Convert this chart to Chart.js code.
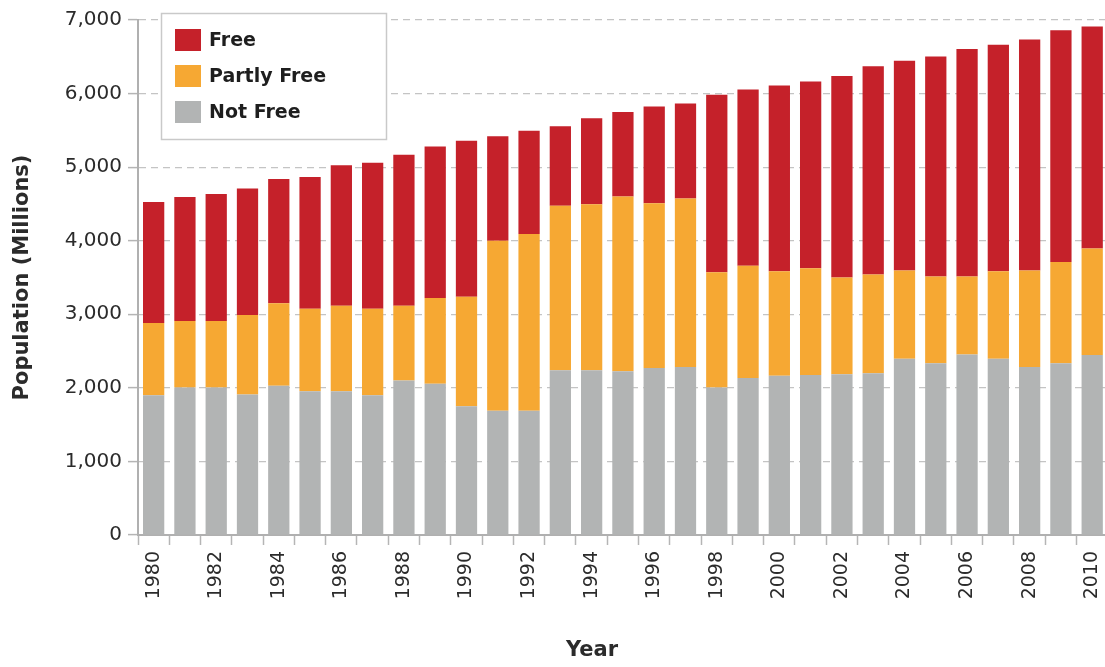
<!DOCTYPE html>
<html>
<head>
<meta charset="utf-8">
<script src="https://cdn.jsdelivr.net/npm/chart.js@4/dist/chart.umd.min.js"></script>
<style>
  html, body { margin: 0; padding: 0; background: #fff; overflow: hidden; }
  #wrap { width: 1105px; height: 667px; position: relative; overflow: hidden; }
</style>
</head>
<body>
<div id="wrap"><canvas id="c" width="1121" height="667"></canvas></div>
<script>
// ---- Data (millions of people) ----
const years = ['1980','1981','1982','1983','1984','1985','1986','1987','1988','1989',
               '1990','1991','1992','1993','1994','1995','1996','1997','1998','1999',
               '2000','2001','2002','2003','2004','2005','2006','2007','2008','2009','2010'];
const notFree =    [1900,2005,2005,1910,2030,1955,1955,1900,2100,2055,
                    1750,1690,1690,2240,2240,2225,2270,2285,2005,2135,
                    2165,2175,2185,2200,2395,2335,2455,2395,2285,2335,2445];
const partlyFree = [ 980, 905, 905,1080,1120,1120,1160,1175,1015,1165,
                    1490,2310,2400,2235,2255,2375,2240,2290,1565,1525,
                    1420,1450,1315,1340,1200,1180,1060,1190,1310,1375,1450];
const free =       [1645,1685,1725,1720,1690,1790,1910,1985,2055,2060,
                    2120,1420,1405,1080,1170,1150,1315,1290,2415,2395,
                    2525,2540,2740,2830,2850,2990,3090,3080,3140,3150,3015];
const yTicks = [0,1000,2000,3000,4000,5000,6000,7000];
const xTitle = 'Year';

const FONT = "'DejaVu Sans', 'Liberation Sans', Arial, sans-serif";
const TXT = '#2b2b2b';

const legendBox = {
  id: 'legendBox',
  afterDraw(chart) {
    const ctx = chart.ctx;
    const ca = chart.chartArea;
    const x = ca.left + 23, y = 13, w = 225, h = 126;
    ctx.save();
    ctx.fillStyle = '#ffffff';
    ctx.fillRect(x, y, w, h);
    ctx.strokeStyle = '#c9c9c9';
    ctx.lineWidth = 1.5;
    ctx.strokeRect(x + 0.5, y + 0.5, w, h);
    const order = chart.data.datasets.slice().reverse();
    ctx.font = "bold 19px " + FONT;
    ctx.textBaseline = 'middle';
    ctx.textAlign = 'left';
    order.forEach((ds, i) => {
      const cy = y + 27 + i * 36;
      ctx.fillStyle = ds.backgroundColor;
      ctx.fillRect(x + 14, cy - 11, 26, 22);
      ctx.fillStyle = '#1e1e1e';
      ctx.fillText(ds.label, x + 48, cy + 1);
    });
    // x-axis title
    ctx.font = "bold 21px " + FONT;
    ctx.fillStyle = TXT;
    ctx.textAlign = 'center';
    ctx.fillText(xTitle, 592, 651);
    ctx.restore();
  }
};

new Chart(document.getElementById('c'), {
  type: 'bar',
  data: {
    labels: years,
    datasets: [
      { label: 'Not Free', data: notFree, backgroundColor: '#b2b4b4' },
      { label: 'Partly Free', data: partlyFree, backgroundColor: '#f6a833' },
      { label: 'Free', data: free, backgroundColor: '#c5212a' }
    ]
  },
  options: {
    responsive: false,
    animation: false,
    events: [],
    layout: { padding: { top: 20, right: 0, bottom: 0, left: 0 } },
    datasets: { bar: { categoryPercentage: 0.68, barPercentage: 1.0 } },
    plugins: { legend: { display: false }, tooltip: { enabled: false } },
    scales: {
      x: {
        stacked: true,
        offset: true,
        grid: { display: true, drawOnChartArea: false, drawTicks: true, tickLength: 10,
                tickColor: '#b5b5b5', tickWidth: 1.5, offset: true },
        border: { display: true, color: '#b0b0b0', width: 2 },
        ticks: {
          autoSkip: false, minRotation: 90, maxRotation: 90, padding: 6,
          color: TXT, font: { family: FONT, size: 19 },
          callback: function(v, i) { return i % 2 === 0 ? this.getLabelForValue(v) : ''; }
        },
        title: { display: false },
        afterFit: (s) => { s.height = 132; }
      },
      y: {
        stacked: true,
        min: 0, max: 7000,
        afterBuildTicks: (s) => { s.ticks = yTicks.map(v => ({ value: v })); },
        grid: { color: (c) => c.tick && c.tick.value === 0 ? 'rgba(0,0,0,0)' : '#c4c4c4',
                lineWidth: 1.2, drawTicks: true, tickLength: 10,
                tickColor: '#b5b5b5', tickWidth: 1.5, tickBorderDash: [] },
        border: { display: true, color: '#b0b0b0', width: 2, dash: [7, 5] },
        ticks: {
          padding: 6, color: TXT, font: { family: FONT, size: 20 },
          callback: (v) => Number(v).toLocaleString('en-US')
        },
        title: { display: true, text: 'Population (Millions)', color: TXT,
                 font: { family: FONT, size: 21, weight: 'bold' }, padding: { top: 10, bottom: 0 } },
        afterFit: (s) => { s.width = 138; }
      }
    }
  },
  plugins: [legendBox]
});
</script>
</body>
</html>
